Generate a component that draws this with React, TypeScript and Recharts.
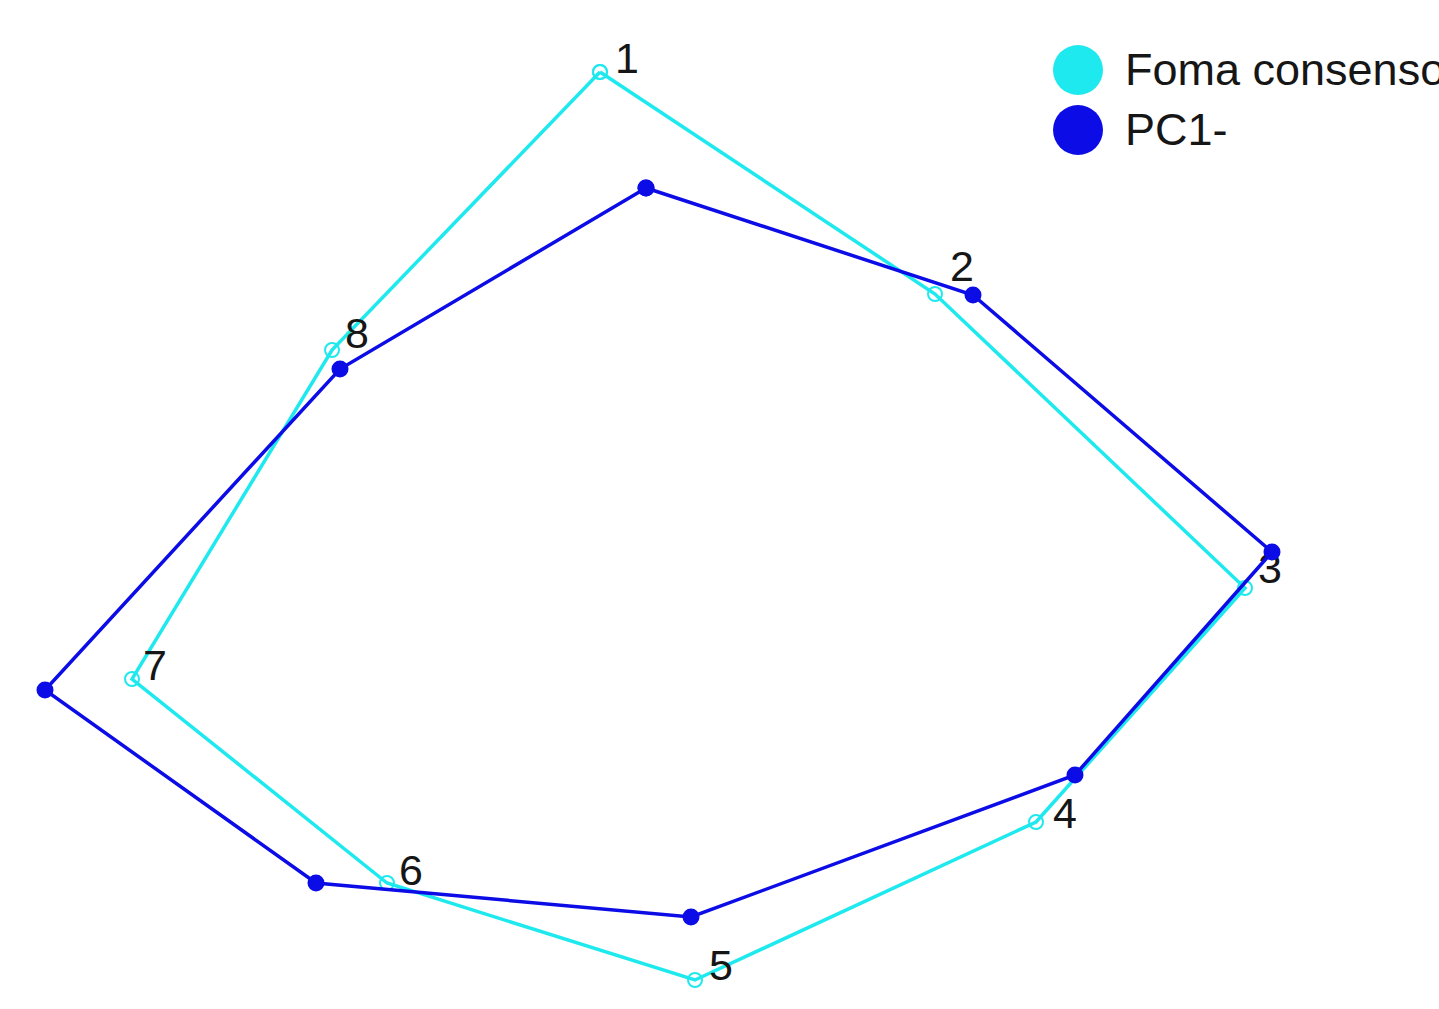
import { ScatterChart, Scatter, XAxis, YAxis } from "recharts";

// landmark configuration (Procrustes coordinates)
const LANDMARKS = ["1", "2", "3", "4", "5", "6", "7", "8"];
const consensusX = [-0.06, 0.275, 0.585, 0.376, 0.035, -0.273, -0.528, -0.328];
const consensusY = [0.448, 0.226, -0.068, -0.302, -0.46, -0.363, -0.159, 0.17];
const pc1X = [-0.014, 0.313, 0.612, 0.415, 0.031, -0.344, -0.615, -0.32];
const pc1Y = [0.332, 0.225, -0.032, -0.255, -0.397, -0.363, -0.17, 0.151];

const SERIES = ["Foma consenso", "PC1-"];

const CYAN = "#1ee9ee";
const BLUE = "#0c0ce6";
const FONT = "'Liberation Sans', Arial, sans-serif";

// label placement next to each landmark (px)
const LABEL_DX = [15, 15, 13, 17, 14, 12, 11, 13];
const LABEL_DY = [1, -13, -5, 6, 0, 2, 1, -2];

// closed outline: repeat the first landmark at the end without a label
const ring = (xs: number[], ys: number[]) => [
  ...xs.map((x, i) => ({ x, y: ys[i], id: LANDMARKS[i], k: i })),
  { x: xs[0], y: ys[0], id: "", k: 0 },
];

const consensus = ring(consensusX, consensusY);
const pc1 = ring(pc1X, pc1Y);

function OpenMark(props: any) {
  const { cx, cy, payload } = props;
  return (
    <g>
      <circle cx={cx} cy={cy} r={7} fill="none" stroke={CYAN} strokeWidth={2} />
      {payload.id && (
        <text
          x={cx + LABEL_DX[payload.k]}
          y={cy + LABEL_DY[payload.k]}
          fontSize={43}
          fontFamily={FONT}
          fill="#161616"
        >
          {payload.id}
        </text>
      )}
    </g>
  );
}

function FilledMark(props: any) {
  const { cx, cy } = props;
  return <circle cx={cx} cy={cy} r={8.5} fill={BLUE} />;
}

function LegendBox() {
  const colors = [CYAN, BLUE];
  return (
    <div
      style={{
        position: "absolute",
        left: 1053,
        top: 40,
        fontFamily: FONT,
        whiteSpace: "nowrap",
      }}
    >
      {SERIES.map((name, i) => (
        <div
          key={name}
          style={{ display: "flex", alignItems: "center", height: 60 }}
        >
          <span
            style={{
              width: 50,
              height: 50,
              borderRadius: "50%",
              background: colors[i],
              marginRight: 22,
              flexShrink: 0,
            }}
          />
          <span style={{ fontSize: 45, color: "#161616" }}>{name}</span>
        </div>
      ))}
    </div>
  );
}

export default function App() {
  return (
    <div
      style={{
        position: "absolute",
        left: 0,
        top: 0,
        width: 1439,
        height: 1009,
        overflow: "hidden",
        background: "#fff",
      }}
    >
      <ScatterChart
        width={1439}
        height={1009}
        margin={{ top: 0, right: 0, bottom: 0, left: 0 }}
      >
        <XAxis
          type="number"
          dataKey="x"
          domain={[-0.66, 0.779]}
          hide
          allowDataOverflow
        />
        <YAxis
          type="number"
          dataKey="y"
          domain={[-0.489, 0.52]}
          hide
          allowDataOverflow
        />
        <Scatter
          name={SERIES[0]}
          data={consensus}
          line={{ stroke: CYAN, strokeWidth: 3.5 }}
          strokeWidth={3.5}
          lineType="joint"
          shape={OpenMark}
          fill={CYAN}
          isAnimationActive={false}
        />
        <Scatter
          name={SERIES[1]}
          data={pc1}
          line={{ stroke: BLUE, strokeWidth: 3.5 }}
          strokeWidth={3.5}
          lineType="joint"
          shape={FilledMark}
          fill={BLUE}
          isAnimationActive={false}
        />
      </ScatterChart>
      <LegendBox />
    </div>
  );
}
